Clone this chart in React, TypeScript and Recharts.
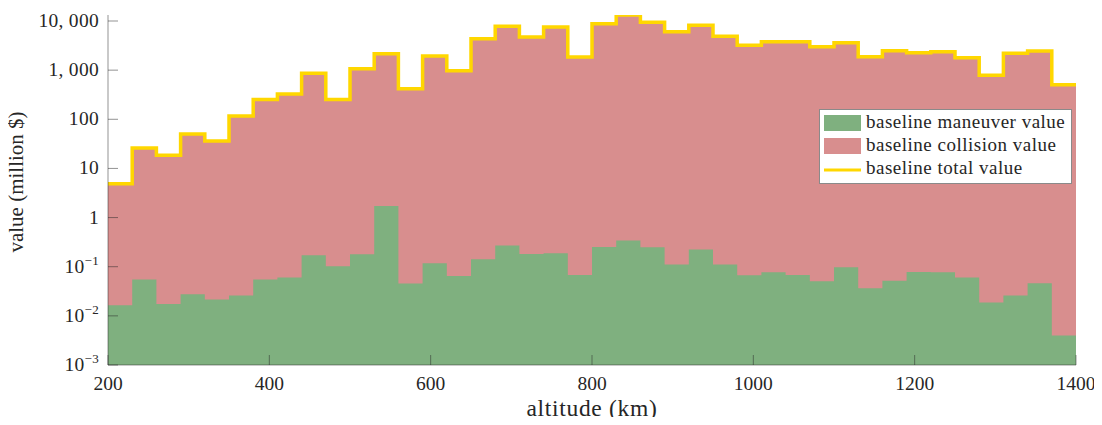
import { Area, ComposedChart, Legend, Line, XAxis, YAxis } from "recharts";

// altitude bins (km), 30 km wide, left edges
const binStarts = [
  200, 230, 260, 290, 320, 350, 380, 410, 440, 470, 500, 530, 560, 590, 620, 650, 680, 710, 740, 770,
  800, 830, 860, 890, 920, 950, 980, 1010, 1040, 1070, 1100, 1130, 1160, 1190, 1220, 1250, 1280, 1310, 1340, 1370,
];
const xEnd = 1400;

// million $
const maneuverValue = [
  0.0164, 0.0548, 0.0175, 0.0275, 0.0215, 0.0259, 0.055, 0.06, 0.171, 0.102, 0.18, 1.71, 0.0455, 0.118, 0.065,
  0.142, 0.27, 0.182, 0.188, 0.068, 0.253, 0.342, 0.249, 0.111, 0.224, 0.111, 0.067, 0.077, 0.068, 0.0507, 0.098,
  0.0365, 0.052, 0.078, 0.077, 0.06, 0.0187, 0.026, 0.046, 0.004,
];
const collisionValue = [
  4.88, 25.9, 18.6, 50, 36, 116, 254, 326, 860, 254, 1070, 2158, 418, 1940, 973, 4360, 7800, 4720, 7550, 1850,
  8810, 13250, 9400, 6050, 8170, 4880, 3200, 3780, 3780, 3000, 3610, 1875, 2480, 2260, 2370, 1790, 783, 2200, 2450, 505,
];
const totalValue = [
  4.9, 26, 18.6, 50, 36, 116, 254, 326, 860, 254, 1070, 2160, 418, 1940, 973, 4360, 7800, 4720, 7550, 1850,
  8810, 13250, 9400, 6050, 8170, 4880, 3200, 3780, 3780, 3000, 3610, 1875, 2480, 2260, 2370, 1790, 783, 2200, 2450, 505,
];

const xTicks = [200, 400, 600, 800, 1000, 1200, 1400];
const yTicks = [0.001, 0.01, 0.1, 1, 10, 100, 1000, 10000];
const yTickLabels: Record<number, [string, string?]> = {
  0.001: ["10", "\u22123"],
  0.01: ["10", "\u22122"],
  0.1: ["10", "\u22121"],
  1: ["1"],
  10: ["10"],
  100: ["100"],
  1000: ["1, 000"],
  10000: ["10, 000"],
};

const legendItems = [
  { label: "baseline maneuver value", color: "#7FB07F", kind: "patch" },
  { label: "baseline collision value", color: "#D88E8E", kind: "patch" },
  { label: "baseline total value", color: "#FFD700", kind: "line" },
];

const rows = binStarts.map((alt, i) => ({
  alt,
  maneuver: maneuverValue[i],
  collision: collisionValue[i],
  total: totalValue[i],
}));
// closing edge so the last step reaches 1400
const data = [...rows, { ...rows[rows.length - 1], alt: xEnd }];

const FONT = "'Liberation Serif', 'Times New Roman', serif";
const TEXT = "#262626";
const AXIS = "rgba(40,40,40,0.5)";

function XTick(props: any) {
  const { x, y, payload } = props;
  return (
    <text x={x} y={y} textAnchor="middle" fontFamily={FONT} fontSize={19.5} fill={TEXT}>
      {payload.value}
    </text>
  );
}

function YTick(props: any) {
  const { x, y, payload } = props;
  const [base, sup] = yTickLabels[payload.value] ?? [String(payload.value)];
  return (
    <text x={x} y={y + 6} textAnchor="end" fontFamily={FONT} fontSize={19.5} fill={TEXT} letterSpacing={0.3}>
      <tspan>{base}</tspan>
      {sup && (
        <tspan dy={-8} fontSize={13}>
          {sup}
        </tspan>
      )}
    </text>
  );
}

function XTitle(props: any) {
  const { viewBox } = props;
  return (
    <text
      x={viewBox.x + viewBox.width / 2}
      y={viewBox.y + 51}
      textAnchor="middle"
      fontFamily={FONT}
      fontSize={23.5}
      letterSpacing={0.7}
      fill={TEXT}
    >
      altitude (km)
    </text>
  );
}

function YTitle(props: any) {
  const { viewBox } = props;
  const cx = viewBox.x + 23;
  const cy = viewBox.y + viewBox.height / 2 - 8;
  return (
    <text
      x={cx}
      y={cy}
      transform={`rotate(-90, ${cx}, ${cy})`}
      textAnchor="middle"
      fontFamily={FONT}
      fontSize={21}
      fill={TEXT}
    >
      value (million $)
    </text>
  );
}

function LegendBox() {
  return (
    <svg width={254} height={76} style={{ display: "block" }}>
      <rect x={0.5} y={0.5} width={252} height={74} fill="#fff" stroke="#8a8a8a" />
      {legendItems.map((it, i) => {
        const cy = 14 + i * 23;
        return (
          <g key={it.label}>
            {it.kind === "patch" ? (
              <rect x={5} y={cy - 8} width={37} height={16} fill={it.color} />
            ) : (
              <line x1={5} x2={42} y1={cy + 1} y2={cy + 1} stroke={it.color} strokeWidth={3} />
            )}
            <text x={47} y={cy + 5} fontFamily={FONT} fontSize={19} fill={TEXT} letterSpacing={0.5}>
              {it.label}
            </text>
          </g>
        );
      })}
    </svg>
  );
}

export default function App() {
  return (
    <div style={{ margin: -8, width: 1102, height: 425 }}>
      <ComposedChart width={1102} height={425} data={data} margin={{ top: 15, right: 26, bottom: 0, left: 0 }}>
        <Area
          dataKey="collision"
          type="stepAfter"
          fill="#D88E8E"
          fillOpacity={1}
          stroke="none"
          baseValue={0.001}
          isAnimationActive={false}
        />
        <Area
          dataKey="maneuver"
          type="stepAfter"
          fill="#7FB07F"
          fillOpacity={1}
          stroke="none"
          baseValue={0.001}
          isAnimationActive={false}
        />
        <Line
          dataKey="total"
          type="stepAfter"
          stroke="#FFD700"
          strokeWidth={3.5}
          dot={false}
          activeDot={false}
          isAnimationActive={false}
        />
        <XAxis
          dataKey="alt"
          type="number"
          domain={[200, 1400]}
          ticks={xTicks}
          allowDataOverflow
          height={60}
          tickSize={-10}
          tickMargin={35}
          axisLine={{ stroke: AXIS }}
          tickLine={{ stroke: AXIS }}
          tick={<XTick />}
          label={(p: any) => <XTitle {...p} />}
        />
        <YAxis
          type="number"
          scale="log"
          domain={[0.001, 13250]}
          ticks={yTicks}
          allowDataOverflow
          width={108}
          tickSize={-10}
          tickMargin={19}
          axisLine={{ stroke: AXIS }}
          tickLine={{ stroke: AXIS }}
          tick={<YTick />}
          label={(p: any) => <YTitle {...p} />}
        />
        <Legend
          layout="vertical"
          align="center"
          verticalAlign="middle"
          wrapperStyle={{ left: 819, top: 109, width: 254, height: 76 }}
          content={() => <LegendBox />}
        />
      </ComposedChart>
    </div>
  );
}
